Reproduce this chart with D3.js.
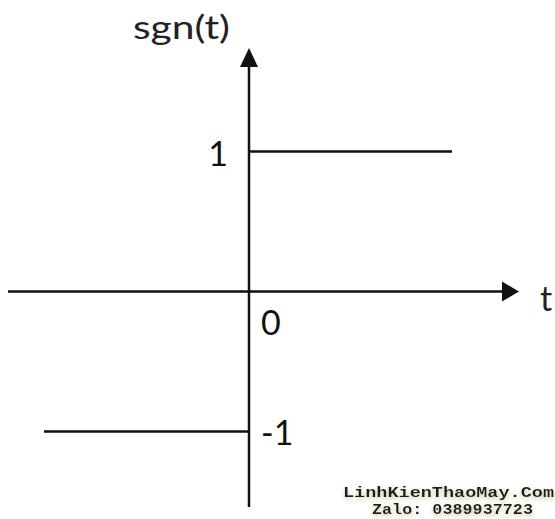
<!DOCTYPE html>
<html>
<head>
<meta charset="utf-8">
<script src="https://cdn.jsdelivr.net/npm/d3@7"></script>
<style>
  html, body { margin: 0; padding: 0; background: #fff; }
  svg { display: block; }
</style>
</head>
<body>
<svg id="chart" width="555" height="519"></svg>
<script>
// sign function: value -1 for t < 0, +1 for t > 0
var segStart = [-2.05, 0];
var segEnd = [0, 2.03];
var segValue = [-1, 1];

var tickValues = [1, 0, -1];
var tickLabels = ['1', '0', '-1'];

var width = 555;
var height = 519;
var ink = '#111';

var svg = d3.select('#chart');

// t runs left to right, sgn(t) bottom to top
var x = d3.scaleLinear().domain([-2.41, 2.7]).range([8, 519]);
var y = d3.scaleLinear().domain([1.74, -1.54]).range([48, 507]);

var x0 = x(0);
var y0 = y(0);

// horizontal axis with arrow
var arrowLen = 17;
svg.append('line')
    .attr('x1', x.range()[0]).attr('x2', x.range()[1] - arrowLen + 2)
    .attr('y1', y0).attr('y2', y0)
    .attr('stroke', ink).attr('stroke-width', 2.5);
svg.append('path')
    .attr('d', 'M' + x.range()[1] + ',' + y0 + 'L' + (x.range()[1] - arrowLen) + ',' + (y0 - 10) + 'L' + (x.range()[1] - arrowLen) + ',' + (y0 + 10) + 'Z')
    .attr('fill', ink);

// vertical axis with arrow
svg.append('line')
    .attr('x1', x0).attr('x2', x0)
    .attr('y1', y.range()[1]).attr('y2', y.range()[0] + arrowLen + 2)
    .attr('stroke', ink).attr('stroke-width', 2.5);
svg.append('path')
    .attr('d', 'M' + x0 + ',' + y.range()[0] + 'L' + (x0 - 9) + ',' + (y.range()[0] + arrowLen + 2) + 'L' + (x0 + 9) + ',' + (y.range()[0] + arrowLen + 2) + 'Z')
    .attr('fill', ink);

// the two constant pieces
svg.selectAll('line.seg')
    .data(segValue)
    .join('line')
    .classed('seg', true)
    .attr('x1', function (d, i) { return x(segStart[i]); })
    .attr('x2', function (d, i) { return x(segEnd[i]); })
    .attr('y1', function (d) { return y(d); })
    .attr('y2', function (d) { return y(d); })
    .attr('stroke', ink).attr('stroke-width', 2.5);

// value labels on the axes
var font = 'Lato, "Open Sans", sans-serif';
svg.selectAll('text.tick')
    .data(tickValues)
    .join('text')
    .classed('tick', true)
    .text(function (d, i) { return tickLabels[i]; })
    .attr('x', function (d) { return d > 0 ? x0 - 21 : x0 + 12; })
    .attr('y', function (d) { return d === 0 ? y0 + 44 : y(d) + 14; })
    .attr('text-anchor', function (d) { return d > 0 ? 'end' : 'start'; })
    .attr('font-family', font).attr('font-size', 34).attr('fill', ink);

// axis names
svg.append('text')
    .text('sgn(t)')
    .attr('x', 133).attr('y', 39)
    .attr('font-family', font).attr('font-size', 33).attr('fill', '#222')
    .attr('textLength', 97).attr('lengthAdjust', 'spacingAndGlyphs');
svg.append('text')
    .text('t')
    .attr('x', 540).attr('y', y0 + 20)
    .attr('font-family', font).attr('font-size', 34).attr('fill', '#222');

// watermark
var defs = svg.append('defs');
var glow = defs.append('filter').attr('id', 'glow').attr('x', '-10%').attr('y', '-50%').attr('width', '120%').attr('height', '200%');
glow.append('feGaussianBlur').attr('in', 'SourceAlpha').attr('stdDeviation', 2.5).attr('result', 'b');
glow.append('feOffset').attr('in', 'b').attr('dy', 2).attr('result', 'o');
glow.append('feFlood').attr('flood-color', '#c9c39a').attr('result', 'c');
glow.append('feComposite').attr('in', 'c').attr('in2', 'o').attr('operator', 'in').attr('result', 's');
var merge = glow.append('feMerge');
merge.append('feMergeNode').attr('in', 's');
merge.append('feMergeNode').attr('in', 'SourceGraphic');

var wm = svg.append('g').attr('filter', 'url(#glow)')
    .attr('font-family', '"Liberation Mono", "Courier New", monospace')
    .attr('font-weight', 'bold').attr('fill', '#1a1a1a');
wm.append('text').text('LinhKienThaoMay.Com')
    .attr('x', 343).attr('y', 497).attr('font-size', 15)
    .attr('textLength', 211).attr('lengthAdjust', 'spacingAndGlyphs');
wm.append('text').text('Zalo: 0389937723')
    .attr('x', 372).attr('y', 514).attr('font-size', 15)
    .attr('textLength', 161).attr('lengthAdjust', 'spacingAndGlyphs');
</script>
</body>
</html>
